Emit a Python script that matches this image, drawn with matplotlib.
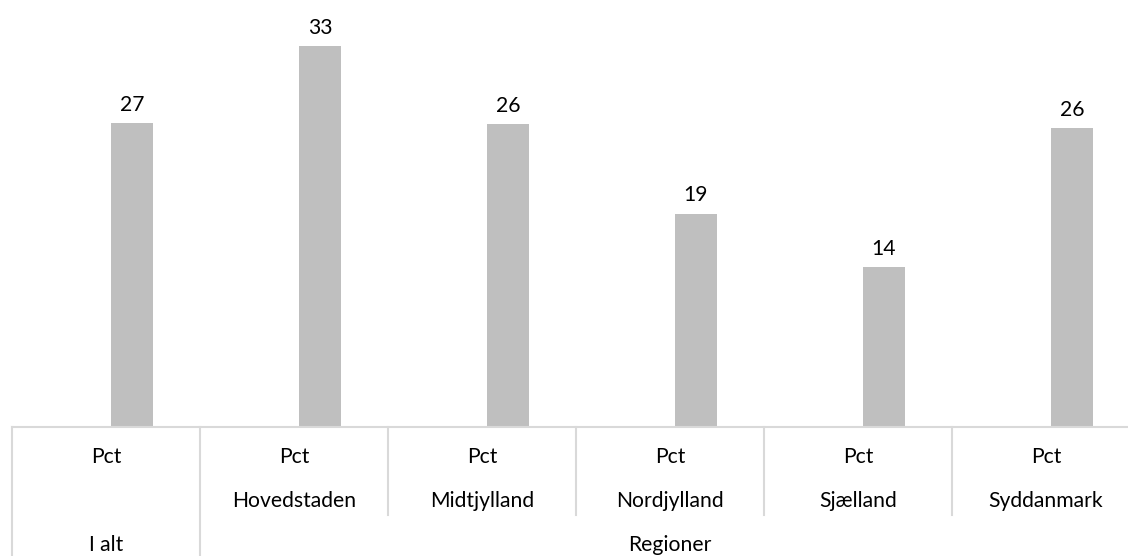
import matplotlib
matplotlib.use("Agg")
import matplotlib.pyplot as plt
from matplotlib.lines import Line2D
from matplotlib.transforms import blended_transform_factory

plt.rcParams['font.family'] = ['Lato', 'DejaVu Sans']

# Data
regions = ["", "Hovedstaden", "Midtjylland", "Nordjylland", "Sjælland", "Syddanmark"]
unit_labels = ["Pct", "Pct", "Pct", "Pct", "Pct", "Pct"]
groups = ["I alt", "Regioner"]
group_sizes = [1, 5]
values = [26.55, 33.3, 26.45, 18.6, 13.9, 26.1]

W, H = 1128, 556
fig = plt.figure(figsize=(W / 100, H / 100), dpi=100)

base_px = 426          # baseline (pixels from top)
left_px, right_px = 12, 1140
ax = fig.add_axes([left_px / W, (H - base_px) / H, (right_px - left_px) / W, base_px / H])

n = len(values)
x = list(range(n))
bar_shift = 0.138
bar_w = 0.224
ax.bar([xi + bar_shift for xi in x], values, width=bar_w, color="#BFBFBF", zorder=2)

fs = 15.2
for xi, v in zip(x, values):
    ax.annotate(f"{v:.0f}", (xi + bar_shift, v), xytext=(0, 9), textcoords="offset points",
                ha="center", va="baseline", fontsize=fs, color="#000000")

ax.set_xlim(-0.5, n - 0.5)
ax.set_ylim(0, base_px / 11.41)
ax.axis("off")

# Category table beneath the axis
line_c = "#D9D9D9"
tr = blended_transform_factory(ax.transData, fig.transFigure)
fy = lambda px: (H - px) / H

fig.add_artist(Line2D([-0.5, n - 0.5], [fy(base_px + 1), fy(base_px + 1)], transform=tr,
                      color=line_c, lw=1.5))

# dividers between categories and groups
group_edges = [-0.5]
for s in group_sizes:
    group_edges.append(group_edges[-1] + s)
for i in range(n + 1):
    xe = i - 0.5
    bottom = H if xe in group_edges else 515
    fig.add_artist(Line2D([xe, xe], [fy(base_px + 1), fy(bottom)], transform=tr,
                          color=line_c, lw=1.5))

for xi, u, r in zip(x, unit_labels, regions):
    fig.text(xi, fy(457), u, transform=tr, ha="center", va="center", fontsize=fs)
    if r:
        fig.text(xi, fy(501), r, transform=tr, ha="center", va="center", fontsize=fs)

for gi, g in enumerate(groups):
    gc = (group_edges[gi] + group_edges[gi + 1]) / 2
    fig.text(gc, fy(545), g, transform=tr, ha="center", va="center", fontsize=fs)

fig.savefig("out.png", dpi=100)
